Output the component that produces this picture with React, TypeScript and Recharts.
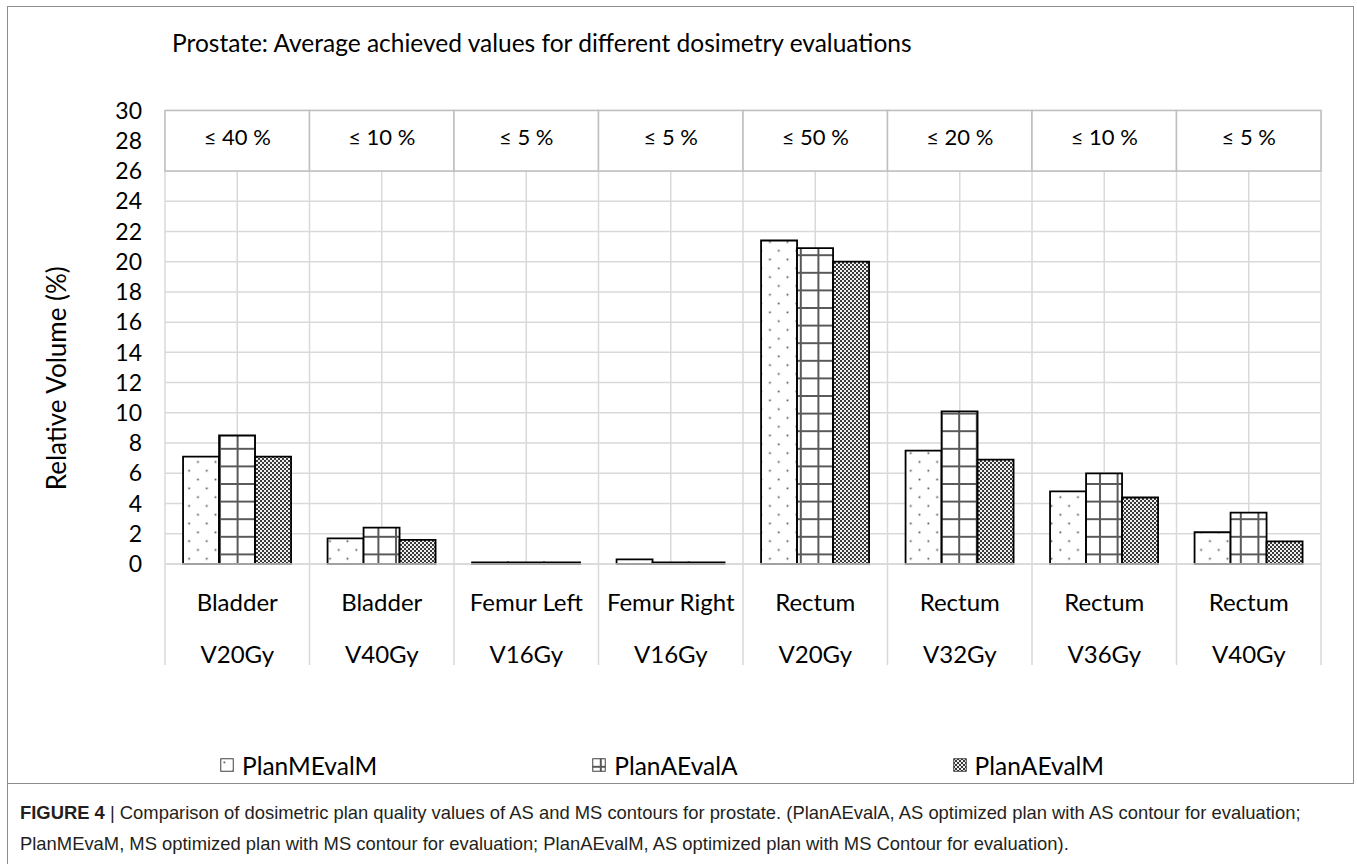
import React from 'react';
import { BarChart, Bar, XAxis, YAxis, CartesianGrid, ReferenceArea, Legend } from 'recharts';

// structure / metric pairs shown on the x axis
const organs = ['Bladder', 'Bladder', 'Femur Left', 'Femur Right', 'Rectum', 'Rectum', 'Rectum', 'Rectum'];
const metrics = ['V20Gy', 'V40Gy', 'V16Gy', 'V16Gy', 'V20Gy', 'V32Gy', 'V36Gy', 'V40Gy'];
// dose constraints printed in the table above the bars
const limits = ['≤ 40 %', '≤ 10 %', '≤ 5 %', '≤ 5 %', '≤ 50 %', '≤ 20 %', '≤ 10 %', '≤ 5 %'];

const planMEvalM = [7.1, 1.7, 0.1, 0.3, 21.4, 7.5, 4.8, 2.1];
const planAEvalA = [8.5, 2.4, 0.1, 0.1, 20.9, 10.1, 6.0, 3.4];
const planAEvalM = [7.1, 1.6, 0.1, 0.1, 20.0, 6.9, 4.4, 1.5];

const yTicks = [0, 2, 4, 6, 8, 10, 12, 14, 16, 18, 20, 22, 24, 26, 28, 30];

const data = organs.map((organ, i) => ({
  key: `${organ} ${metrics[i]}`,
  PlanMEvalM: planMEvalM[i],
  PlanAEvalA: planAEvalA[i],
  PlanAEvalM: planAEvalM[i],
}));

const series = [
  { key: 'PlanMEvalM', fill: 'url(#pat-dots)' },
  { key: 'PlanAEvalA', fill: 'url(#pat-grid)' },
  { key: 'PlanAEvalM', fill: 'url(#pat-check)' },
];

const FONT = 'Lato, "Open Sans", sans-serif';
const GRID = '#d9d9d9';

function CategoryTick(props: any) {
  const { x, y, payload } = props;
  const i = payload.index;
  const half = payload.offset || 72;
  const last = i === organs.length - 1;
  return (
    <g>
      <line x1={x - half} x2={x - half} y1={y} y2={y + 101} stroke={GRID} strokeWidth={1.5} />
      {last && <line x1={x + half} x2={x + half} y1={y} y2={y + 101} stroke={GRID} strokeWidth={1.5} />}
      <text x={x} y={y + 37} textAnchor="middle" dominantBaseline="central" fontSize={24} fontFamily={FONT} fill="#000">
        {organs[i]}
      </text>
      <text x={x} y={y + 89} textAnchor="middle" dominantBaseline="central" fontSize={24} fontFamily={FONT} fill="#000">
        {metrics[i]}
      </text>
    </g>
  );
}

function YLabel(props: any) {
  const { viewBox } = props;
  const cx = 56;
  const cy = viewBox.y + viewBox.height / 2 + 41;
  return (
    <text
      x={cx}
      y={cy}
      transform={`rotate(-90 ${cx} ${cy})`}
      textAnchor="middle"
      dominantBaseline="central"
      fontSize={26}
      fontFamily={FONT}
      fill="#000"
    >
      Relative Volume (%)
    </text>
  );
}

const renderLegend = () => (
  <div style={{ display: 'flex', height: 40, alignItems: 'center', paddingLeft: 220, gap: 215, fontFamily: FONT, fontSize: 24.5, color: '#000' }}>
    {series.map((s) => (
      <div key={s.key} style={{ display: 'flex', alignItems: 'center' }}>
        <svg width={14} height={14}>
          <rect x={0.75} y={0.75} width={12.5} height={12.5} fill={s.fill} stroke="#404040" strokeWidth={1} />
        </svg>
        <span style={{ marginLeft: 8 }}>{s.key}</span>
      </div>
    ))}
  </div>
);

export default function App() {
  return (
    <div style={{ position: 'absolute', left: 0, top: 0, width: 1357, height: 864, background: '#fff' }}>
      <div style={{ position: 'absolute', left: 7, top: 6, width: 1345, height: 776, border: '1.5px solid #8c8c8c' }} />
      <div style={{ position: 'absolute', left: 7, top: 783, width: 0, height: 81, borderLeft: '1.5px solid #8c8c8c' }} />
      <div style={{ position: 'absolute', left: 172, top: 28, fontFamily: FONT, fontSize: 24.5, color: '#000', whiteSpace: 'nowrap' }}>
        Prostate: Average achieved values for different dosimetry evaluations
      </div>
      <div style={{ position: 'absolute', left: 0, top: 0 }}>
        <BarChart
          width={1357}
          height={790}
          data={data}
          margin={{ top: 110.5, right: 36, left: 65, bottom: 85 }}
          barCategoryGap="12.5%"
          barGap={0}
        >
          <defs>
            <pattern id="pat-dots" patternUnits="userSpaceOnUse" width={17.6} height={17.6}>
              <rect width={17.6} height={17.6} fill="#fff" />
              <rect x={3.5} y={3.5} width={1.7} height={1.7} fill="#4d4d4d" />
              <rect x={12.3} y={12.3} width={1.7} height={1.7} fill="#4d4d4d" />
            </pattern>
            <pattern id="pat-grid" patternUnits="userSpaceOnUse" width={17.6} height={17.6}>
              <rect width={17.6} height={17.6} fill="#fff" />
              <path d="M0 8.8 H17.6 M8.8 0 V17.6" stroke="#595959" strokeWidth={2} />
            </pattern>
            <pattern id="pat-check" patternUnits="userSpaceOnUse" width={4} height={4}>
              <rect width={4} height={4} fill="#f0f0f0" />
              <rect x={0} y={0} width={2} height={2} fill="#3a3a3a" />
              <rect x={2} y={2} width={2} height={2} fill="#3a3a3a" />
            </pattern>
          </defs>
          <CartesianGrid
            stroke={GRID}
            strokeWidth={1.5}
            verticalCoordinatesGenerator={({ offset }: any) =>
              Array.from({ length: organs.length * 2 + 1 }, (_, k) => offset.left + (k * offset.width) / (organs.length * 2))
            }
          />
          <XAxis
            dataKey="key"
            interval={0}
            height={101}
            tickLine={false}
            tickSize={0}
            tickMargin={0}
            axisLine={{ stroke: GRID, strokeWidth: 1.5 }}
            tick={<CategoryTick />}
          />
          <YAxis
            width={100}
            domain={[0, 30]}
            ticks={yTicks}
            interval={0}
            axisLine={false}
            tickLine={false}
            tickSize={8}
            tickMargin={15}
            tick={{ fontSize: 23, fill: '#000', fontFamily: FONT }}
            label={<YLabel />}
          />
          {series.map((s) => (
            <Bar key={s.key} dataKey={s.key} fill={s.fill} stroke="#000" strokeWidth={1.8} isAnimationActive={false} />
          ))}
          {data.map((d, i) => (
            <ReferenceArea
              key={`limit-${i}`}
              x1={d.key}
              x2={d.key}
              y1={26}
              y2={30}
              fill="#fff"
              fillOpacity={1}
              stroke="#bfbfbf"
              strokeWidth={1.5}
              ifOverflow="visible"
              label={{ value: limits[i], position: 'center', dy: -4, fontSize: 22, fill: '#000', fontFamily: FONT }}
            />
          ))}
          <Legend
            verticalAlign="bottom"
            content={renderLegend}
            wrapperStyle={{ top: 745, bottom: 'auto', left: 0, width: 1357 }}
          />
        </BarChart>
      </div>
      <div
        style={{
          position: 'absolute',
          left: 20,
          top: 797,
          width: 1330,
          fontFamily: '"Liberation Sans", Arial, sans-serif',
          fontSize: 18.4,
          lineHeight: '31px',
          color: '#231f20',
          whiteSpace: 'nowrap',
        }}
      >
        <b>FIGURE 4</b> | Comparison of dosimetric plan quality values of AS and MS contours for prostate. (PlanAEvalA, AS optimized plan with AS contour for evaluation;
        <br />
        PlanMEvaM, MS optimized plan with MS contour for evaluation; PlanAEvalM, AS optimized plan with MS Contour for evaluation).
      </div>
    </div>
  );
}
